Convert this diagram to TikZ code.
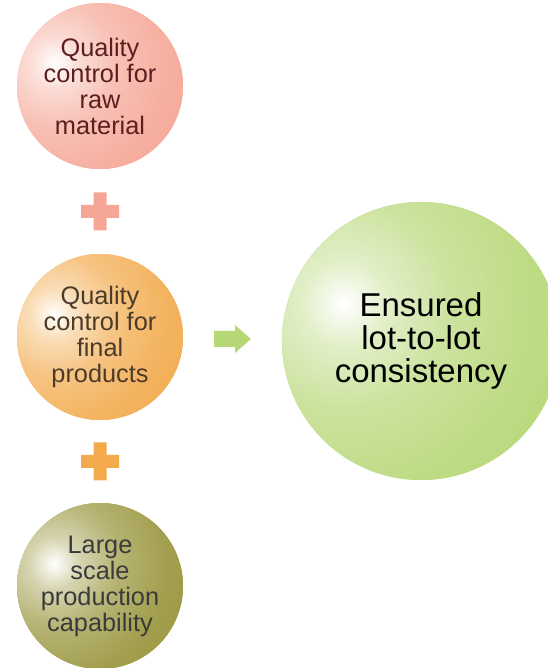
\documentclass[tikz,border=0pt]{standalone}
\usepackage{fontspec}
\setmainfont{Liberation Sans}
\usepackage{tikz}
\usetikzlibrary{calc}

\definecolor{rawred}{RGB}{245,166,150}
\definecolor{finalorange}{RGB}{242,170,76}
\definecolor{largeolive}{RGB}{152,148,58}
\definecolor{lotgreen}{RGB}{182,215,118}
\definecolor{rawtext}{RGB}{92,30,30}
\definecolor{finaltext}{RGB}{77,59,42}
\definecolor{largetext}{RGB}{58,58,58}

% soft highlight, colour taken at use time
\pgfdeclareradialshading[bubblecol]{glow}{\pgfpointorigin}{%
  color(0bp)=(white); color(3.5bp)=(bubblecol!40);
  color(8.5bp)=(bubblecol!70); color(15.5bp)=(bubblecol!90);
  color(24bp)=(bubblecol); color(50bp)=(bubblecol)}

\tikzset{
  bubble/.style n args={3}{circle, inner sep=0pt, minimum size=2*#2,
    align=center, fill=#1, text=#3,
    path picture={\colorlet{bubblecol}{#1}
      \shade[shading=glow]
      ($(path picture bounding box.center)+(-0.55*#2,0.27*#2)$)
      circle [radius=2.2*#2];}},
  smallfont/.style={font=\fontsize{19}{19.5}\selectfont},
  bigfont/.style={font=\fontsize{24.75}{25}\selectfont}
}

\begin{document}
\begin{tikzpicture}[x=0.75pt,y=0.75pt]
\clip (0,0) rectangle (548,668);
\useasboundingbox (0,0) rectangle (548,668);

% the three sources
\node[bubble={rawred}{62.25pt}{rawtext}, smallfont] (qcraw) at (100,582)
  {Quality\\control for\\raw\\material};
\node[bubble={finalorange}{62.25pt}{finaltext}, smallfont] (qcfinal) at (100,331)
  {Quality\\control for\\final\\products};
\node[bubble={largeolive}{62.25pt}{largetext}, smallfont] (largescale) at (100,82)
  {Large\\scale\\production\\capability};

% the result
\node[bubble={lotgreen}{104.25pt}{black}, bigfont] (ensured) at (421,327)
  {Ensured\\lot-to-lot\\consistency};

% plus signs
\coordinate (plusA) at ($(qcraw.south)!0.5!(qcfinal.north)$);
\coordinate (plusB) at ($(qcfinal.south)!0.5!(largescale.north)$);
\fill[rawred]
($(plusA)+(-19,-6.5)$) rectangle ($(plusA)+(19,6.5)$)
($(plusA)+(-6.5,-19)$) rectangle ($(plusA)+(6.5,19)$);
\fill[finalorange]
($(plusB)+(-19,-6.5)$) rectangle ($(plusB)+(19,6.5)$)
($(plusB)+(-6.5,-19)$) rectangle ($(plusB)+(6.5,19)$);

% arrow
\coordinate (arr) at ($(qcfinal.east)!0.5!(ensured.west)$);
\fill[lotgreen]
($(arr)+(-18.5,-8)$) --++ (21,0) --++ (0,-6) --++ (16,14)
--++ (-16,14) --++ (0,-6) --++ (-21,0) -- cycle;
\end{tikzpicture}
\end{document}
